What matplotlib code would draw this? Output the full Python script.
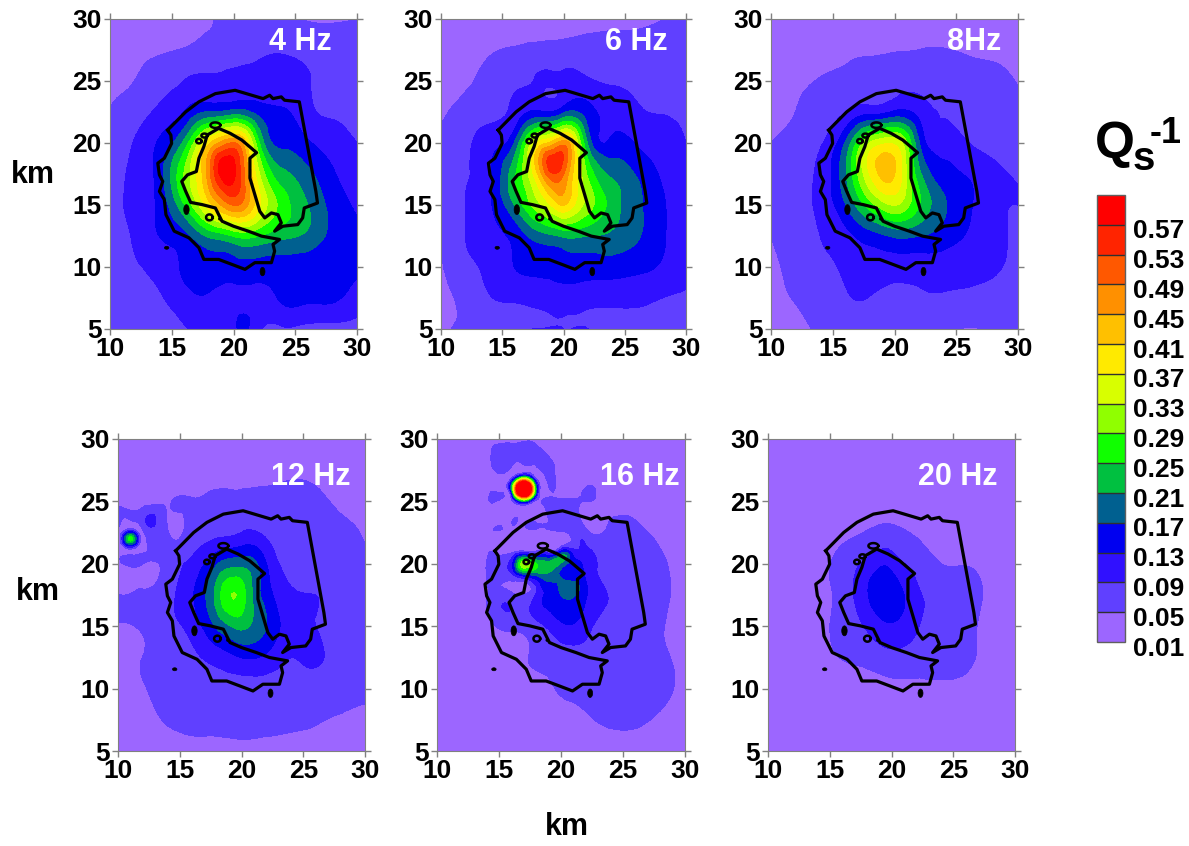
import numpy as np
import matplotlib
matplotlib.use("Agg")
import matplotlib.pyplot as plt
import matplotlib.tri as mtri
from matplotlib.transforms import ScaledTranslation

plt.rcParams['font.family'] = ['Liberation Sans', 'DejaVu Sans']
W, H = 1189, 846

grid_x = [10, 12, 14, 16, 18, 20, 22, 24, 26, 28, 30]
grid_y = [30, 27.5, 25, 22.5, 20, 17.5, 15, 12.5, 10, 7.5, 5]
levels = [0.01, 0.05, 0.09, 0.13, 0.17, 0.21, 0.25, 0.29, 0.33, 0.37, 0.41, 0.45, 0.49, 0.53, 0.57, 0.61]
colors = ['#9C66FF', '#6040FF', '#3010FF', '#0000F0', '#006090', '#00C040', '#10FF00', '#90FF00',
          '#D8FF00', '#FFEA00', '#FFC000', '#FF9000', '#FF5800', '#FF2400', '#FF0000']
tick_labels = ['0.01', '0.05', '0.09', '0.13', '0.17', '0.21', '0.25', '0.29', '0.33', '0.37', '0.41',
               '0.45', '0.49', '0.53', '0.57']

q_4hz = [
 [.035,.036,.038,.042,.049,.055,.055,.052,.048,.047,.05],
 [.038,.042,.046,.052,.062,.07,.08,.085,.075,.066,.06],
 [.044,.05,.072,.09,.095,.098,.105,.11,.093,.075,.065],
 [.052,.07,.098,.13,.17,.185,.155,.135,.10,.085,.075],
 [.07,.092,.135,.22,.40,.49,.26,.16,.135,.11,.09],
 [.075,.097,.15,.29,.47,.58,.34,.22,.18,.135,.11],
 [.075,.10,.14,.245,.39,.49,.38,.27,.21,.155,.125],
 [.07,.095,.13,.155,.215,.25,.25,.22,.20,.155,.135],
 [.065,.085,.105,.135,.15,.15,.15,.15,.145,.14,.135],
 [.06,.07,.085,.115,.125,.118,.12,.135,.135,.135,.115],
 [.055,.06,.065,.085,.10,.12,.10,.085,.075,.07,.07]]
q_6hz = [
 [.035,.035,.035,.036,.037,.038,.04,.042,.045,.049,.055],
 [.035,.04,.047,.053,.06,.062,.062,.062,.06,.062,.065],
 [.04,.046,.06,.08,.093,.097,.095,.085,.078,.072,.07],
 [.047,.058,.075,.10,.135,.16,.145,.115,.095,.088,.08],
 [.055,.075,.115,.17,.38,.47,.20,.14,.125,.11,.09],
 [.06,.085,.125,.24,.42,.49,.28,.20,.165,.125,.105],
 [.06,.09,.125,.21,.32,.41,.31,.23,.18,.135,.115],
 [.058,.09,.115,.14,.19,.215,.21,.20,.175,.135,.12],
 [.045,.08,.10,.13,.14,.15,.15,.15,.14,.125,.10],
 [.045,.06,.088,.095,.10,.105,.10,.10,.10,.09,.085],
 [.048,.055,.065,.085,.09,.09,.09,.08,.07,.065,.065]]
q_8hz = [
 [.03,.03,.03,.032,.035,.038,.04,.04,.04,.042,.042],
 [.03,.032,.034,.037,.042,.047,.05,.051,.047,.045,.04],
 [.04,.045,.052,.062,.072,.078,.075,.07,.062,.058,.048],
 [.04,.05,.065,.088,.115,.135,.115,.085,.07,.062,.055],
 [.05,.06,.085,.17,.33,.36,.17,.11,.09,.075,.06],
 [.052,.07,.10,.20,.37,.41,.22,.145,.125,.10,.085],
 [.052,.07,.10,.165,.27,.33,.25,.175,.135,.10,.09],
 [.05,.065,.09,.115,.15,.175,.17,.15,.125,.10,.085],
 [.045,.06,.08,.095,.11,.11,.11,.11,.105,.095,.08],
 [.04,.052,.065,.085,.088,.07,.08,.085,.08,.075,.07],
 [.035,.04,.055,.06,.062,.06,.06,.055,.048,.052,.055]]
q_12hz = [
 [.03,.03,.03,.03,.03,.03,.03,.03,.03,.03,.03],
 [.03,.03,.03,.03,.03,.032,.036,.042,.04,.035,.032],
 [.03,.03,.045,.053,.058,.06,.062,.065,.058,.045,.04],
 [.032,.038,.052,.064,.078,.09,.082,.07,.062,.055,.048],
 [.036,.05,.065,.10,.165,.195,.13,.075,.065,.06,.055],
 [.052,.058,.075,.125,.225,.27,.15,.095,.09,.07,.06],
 [.047,.055,.075,.105,.175,.22,.17,.105,.09,.07,.058],
 [.04,.05,.06,.08,.105,.13,.12,.09,.095,.07,.057],
 [.035,.048,.056,.062,.07,.072,.072,.07,.068,.062,.056],
 [.03,.04,.052,.056,.058,.06,.058,.056,.052,.047,.043],
 [.03,.03,.035,.04,.04,.04,.04,.04,.035,.03,.03]]
q_16hz = [
 [.03,.03,.03,.03,.03,.03,.03,.03,.03,.03,.03],
 [.03,.03,.03,.03,.03,.03,.03,.03,.03,.03,.03],
 [.03,.03,.035,.04,.035,.055,.05,.04,.035,.03,.03],
 [.03,.03,.03,.03,.032,.042,.062,.062,.06,.042,.035],
 [.03,.03,.05,.11,.25,.20,.12,.065,.06,.055,.035],
 [.03,.03,.045,.06,.092,.17,.135,.088,.06,.055,.035],
 [.03,.03,.035,.06,.075,.12,.105,.065,.06,.052,.04],
 [.03,.03,.03,.035,.055,.07,.07,.06,.06,.055,.04],
 [.03,.03,.03,.03,.035,.055,.06,.06,.06,.058,.04],
 [.03,.03,.03,.03,.03,.03,.045,.055,.055,.045,.03],
 [.03,.03,.03,.03,.03,.03,.03,.03,.03,.03,.03]]
q_20hz = [
 [.03,.03,.03,.03,.03,.03,.03,.03,.03,.03,.03],
 [.03,.03,.03,.03,.03,.03,.03,.03,.03,.03,.03],
 [.03,.03,.03,.03,.03,.03,.03,.03,.03,.03,.03],
 [.03,.03,.03,.038,.052,.06,.045,.03,.03,.03,.03],
 [.03,.03,.035,.065,.10,.115,.075,.05,.048,.035,.03],
 [.03,.03,.035,.065,.125,.145,.098,.07,.065,.04,.03],
 [.03,.03,.035,.065,.095,.125,.095,.065,.06,.035,.03],
 [.03,.03,.03,.052,.06,.075,.065,.06,.058,.035,.03],
 [.03,.03,.03,.03,.038,.042,.045,.045,.04,.03,.03],
 [.03,.03,.03,.03,.03,.03,.03,.03,.03,.03,.03],
 [.03,.03,.03,.03,.03,.03,.03,.03,.03,.03,.03]]

# extra readings between the grid nodes: x, y, q
extra_4hz = [(19,20,.46),(19,17.5,.58),(19.5,18.2,.60),(19,15,.45),(21,20,.41),(21,17.5,.47),(21,15,.46),(20.9,5.3,.135)]
extra_6hz = [(19,20,.42),(19,17.5,.52),(19.3,18.3,.56),(19,15,.37),(21,20,.36),(21,17.5,.38),(21,15,.36)]
extra_8hz = [(19,20,.36),(19,17.5,.42),(19,15,.31),(21,20,.29),(21,17.5,.32),(21,15,.30)]
extra_12hz = [(19,20,.19),(19,17.5,.285),(19,15,.205),(21,20,.18),(21,17.5,.20),(21,15,.20)]
extra_16hz = [(15.3,25.5,.055),(15.9,25.7,.05),(14.5,20,.07),(15,20,.065),(15.5,20,.08),(16.6,20,.25),(17.1,20,.31),
              (17.8,20,.27),(18.5,20,.24),(19,20,.22),(19.6,20.4,.21),(20.2,20.7,.21),(20.7,20.5,.17),(21.3,19.9,.14),
              (21.2,18.5,.17),(22,19,.125),(19,19,.19),(18,19,.16),(17,19,.12),(16,19,.07),(16,21,.035),(17,21,.05),
              (18,21,.05),(19,21,.05),(19.5,20.9,.08),(20.3,21.5,.05),(21,21,.10),(22,21,.10),(22,20,.12),(21.5,22,.085)]
extra_20hz = [(19,20,.12),(19.5,19.8,.13),(19,17.5,.15),(21,17.5,.13),(19.7,15.3,.13),(23,17.5,.085)]
# spikes: x, y, centre value, radii, values at radii
spike_12hz = (11, 22, .27, [.3, .55, .8, 1.2], [.21, .13, .05, .04])
spike_16hz = (17, 26, .65, [.55, .75, .95, 1.25, 1.7], [.59, .40, .22, .06, .03])

panel_names = ['4 Hz', '6 Hz', '8Hz', '12 Hz', '16 Hz', '20 Hz']
panel_fields = [q_4hz, q_6hz, q_8hz, q_12hz, q_16hz, q_20hz]
panel_extras = [extra_4hz, extra_6hz, extra_8hz, extra_12hz, extra_16hz, extra_20hz]
panel_spikes = [None, None, None, spike_12hz, spike_16hz, None]
panel_boxes = [(110, 19, 357, 329), (441, 19, 686, 329), (771, 19, 1018, 329),
               (118, 439, 365, 751), (437, 439, 685, 751), (768, 439, 1015, 751)]
title_pos = [(300, 42), (636, 42), (974, 42), (311, 477), (640, 477), (958, 477)]

outline_x = [14.67,14.93,14.99,14.4,13.87,14.0,14.27,14.0,14.4,14.53,15.2,16.4,17.2,17.6,18.8,19.87,20.93,21.73,23.07,
             23.33,23.2,23.73,22.27,21.2,20.0,19.07,18.53,17.47,16.53,16.13,15.81,16.27,16.99,17.2,17.6,17.87,18.8,
             19.73,20.67,21.87,21.33,21.33,21.73,22.13,22.53,23.07,23.6,23.87,23.33,24.0,25.2,25.6,25.73,26.8,26.67,
             25.33,24.13,23.87,23.2,22.93,22.4,20.13,18.53,17.2,16.13,14.67]
outline_y = [21.04,20.64,19.97,18.77,18.37,17.43,16.9,16.1,15.43,14.22,12.89,12.35,11.55,10.61,10.61,10.21,9.81,10.35,
             10.35,11.28,11.82,12.22,12.49,12.89,13.29,13.69,14.76,15.03,15.21,16.1,16.9,17.43,17.7,18.77,19.71,20.64,
             21.18,20.78,20.24,19.22,18.77,17.17,15.83,14.49,13.96,14.36,14.22,13.56,12.89,13.29,13.42,13.96,14.76,
             15.16,16.1,23.32,23.45,23.72,23.58,23.85,23.58,24.25,23.98,23.32,22.51,21.04]
# small islands: x, y, half width, half height, filled
islands = [(18.53, 21.44, .4, .22, False), (17.2, 20.15, .22, .18, False), (17.65, 20.6, .25, .16, False),
           (18.05, 14.0, .27, .24, False), (16.19, 14.63, .22, .4, True), (14.59, 11.55, .18, .12, True),
           (22.35, 9.63, .2, .34, True), (18.88, 13.88, .1, .1, True)]

fig = plt.figure(figsize=(W / 100, H / 100), dpi=100)


def px_axes(l, t, r, b):
    return fig.add_axes([l / W, 1 - b / H, (r - l) / W, (b - t) / H])


def txt(x, y, s, **kw):
    kw.setdefault('ha', 'center')
    kw.setdefault('va', 'center')
    kw.setdefault('fontweight', 'bold')
    fig.text(x / W, 1 - y / H, s, **kw)


cs = None
gx, gy = np.meshgrid(grid_x, grid_y)
for name, field, extra, spike, box, tp in zip(panel_names, panel_fields, panel_extras, panel_spikes,
                                             panel_boxes, title_pos):
    ax = px_axes(*box)
    xs = list(gx.ravel().astype(float))
    ys = list(gy.ravel().astype(float))
    zs = list(np.array(field, dtype=float).ravel())
    for (a, b, c) in extra:
        xs.append(a); ys.append(b); zs.append(c)
    if spike is not None:
        sx, sy, sc, rad, val = spike
        xs.append(sx); ys.append(sy); zs.append(sc)
        for r, v in zip(rad, val):
            for ang in np.arange(0, 360, 45):
                xs.append(sx + r * np.cos(np.radians(ang)))
                ys.append(sy + r * np.sin(np.radians(ang)))
                zs.append(v)
    xs, ys, zs = np.array(xs), np.array(ys), np.array(zs)
    keep = (xs >= 10) & (xs <= 30)
    tri = mtri.Triangulation(xs[keep], ys[keep])
    refiner = mtri.UniformTriRefiner(tri)
    t2, z2 = refiner.refine_field(zs[keep], subdiv=3)
    z2 = np.clip(z2, 0.012, 0.605)
    cs = ax.tricontourf(t2, z2, levels=levels, colors=colors)
    cs.set_edgecolor('face')
    cs.set_linewidth(0.4)
    ax.plot(outline_x, outline_y, color='black', lw=2.3, solid_joinstyle='round')
    th = np.linspace(0, 2 * np.pi, 30)
    for (a, b, w, h_, filled) in islands:
        if filled:
            ax.fill(a + w * np.cos(th), b + h_ * np.sin(th), color='black', lw=0.5)
        else:
            ax.plot(a + w * np.cos(th), b + h_ * np.sin(th), color='black', lw=1.8)
    ax.set_xlim(10, 30)
    ax.set_ylim(5, 30)
    ax.set_xticks(range(10, 31, 5))
    ax.set_yticks(range(5, 31, 5))
    ax.tick_params(direction='out', length=4, width=1, color='#808080', top=True, right=True, pad=2,
                   labelsize=19)
    for lab in ax.get_xticklabels() + ax.get_yticklabels():
        lab.set_fontweight('bold')
    for sp in ax.spines.values():
        sp.set_color('#808080')
        sp.set_linewidth(0.8)
    txt(tp[0], tp[1], name, color='white', fontsize=22)

txt(33, 175, 'km', fontsize=22)
txt(38, 592, 'km', fontsize=22)
txt(567, 827, 'km', fontsize=22)

txt(1115, 144, 'Q', fontsize=37)
txt(1144, 159, 's', fontsize=29)
txt(1166, 133, '-1', fontsize=26)

cax = px_axes(1097, 195, 1125, 642)
cb = fig.colorbar(cs, cax=cax, drawedges=True, ticks=levels[:-1])
cb.set_ticklabels(tick_labels)
cb.ax.tick_params(length=0, pad=6, labelsize=19)
off = ScaledTranslation(0, -3 / 72, fig.dpi_scale_trans)
for lab in cb.ax.get_yticklabels():
    lab.set_fontweight('bold')
    lab.set_transform(lab.get_transform() + off)
cb.dividers.set_color('#303030')
cb.dividers.set_linewidth(1.0)
cb.outline.set_edgecolor('#606060')
cb.outline.set_linewidth(1.0)

fig.savefig('out.png', dpi=100)
